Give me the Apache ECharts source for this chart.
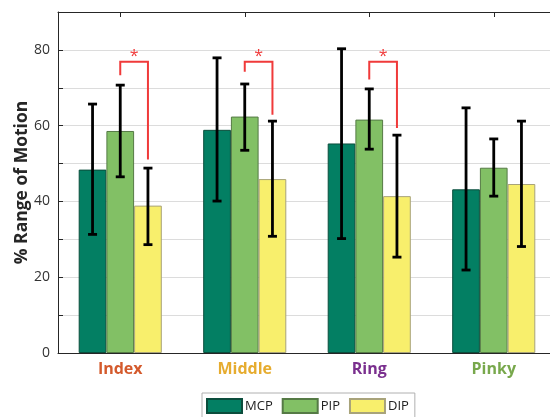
<!DOCTYPE html>
<html>
<head>
<meta charset="utf-8">
<script src="https://cdn.jsdelivr.net/npm/echarts@6/dist/echarts.min.js"></script>
<style>html,body{margin:0;padding:0;background:#fff;}#c{width:550px;height:417px;}</style>
</head>
<body>
<div id="c"></div>
<script>
var categories = ['Index', 'Middle', 'Ring', 'Pinky'];
var categoryColors = ['#d45a2c', '#e6ac2f', '#7a2f8e', '#78a84c'];
var seriesNames = ['MCP', 'PIP', 'DIP'];
var mcp = [48.4, 58.9, 55.3, 43.2];
var pip = [58.6, 62.4, 61.6, 48.9];
var dip = [38.9, 45.9, 41.4, 44.6];
var mcpLow = [31.3, 40.1, 30.2, 21.9];
var mcpHigh = [65.7, 77.9, 80.3, 64.7];
var pipLow = [46.5, 53.5, 53.8, 41.4];
var pipHigh = [70.7, 71.0, 69.7, 56.5];
var dipLow = [28.6, 30.8, 25.3, 28.1];
var dipHigh = [48.8, 61.2, 57.5, 61.2];
// significance brackets: [category, PIP end, top, DIP end]
var brackets = [[0, 73.3, 76.9, 51.1], [1, 74.2, 76.9, 62.9], [2, 72.2, 76.9, 59.4]];
var yTicks = [0, 20, 40, 60, 80];

var BAR_FRAC = 0.2225;
function errData(lo, hi) { return lo.map(function (v, i) { return [i, v, hi[i]]; }); }
function errSeries(lo, hi, k) {
  return {
    type: 'custom', z: 10, silent: true,
    data: errData(lo, hi),
    renderItem: function (params, api) {
      var band = api.size([1, 0])[0];
      var off = band * BAR_FRAC * (k - 1);
      var p1 = api.coord([api.value(0), api.value(1)]);
      var p2 = api.coord([api.value(0), api.value(2)]);
      var x = p1[0] + off;
      var cw = 4.5;
      var st = { stroke: '#000', lineWidth: 2.8 };
      return { type: 'group', children: [
        { type: 'line', shape: { x1: x, y1: p1[1], x2: x, y2: p2[1] }, style: st },
        { type: 'line', shape: { x1: x - cw, y1: p1[1], x2: x + cw, y2: p1[1] }, style: st },
        { type: 'line', shape: { x1: x - cw, y1: p2[1], x2: x + cw, y2: p2[1] }, style: st }
      ] };
    }
  };
}

var chart = echarts.init(document.getElementById('c'), null, { renderer: 'canvas' });
var tf = '"Open Sans", "Noto Sans", sans-serif';
var option = {
  animation: false,
  backgroundColor: '#fff',
  grid: { left: 58, top: 12, bottom: 64, right: -6, containLabel: false, outerBoundsMode: 'none' },
  legend: {
    data: seriesNames, left: 202, top: 393, orient: 'horizontal', icon: 'rect',
    itemWidth: 35, itemHeight: 14, itemGap: 9,
    padding: [5, 6, 8, 4],
    borderColor: '#b0b0b0', borderWidth: 1, borderRadius: 0,
    textStyle: { fontSize: 13, color: '#222', fontFamily: tf, padding: [0, 0, 0, -2] }
  },
  xAxis: [{
    type: 'category', data: categories, position: 'bottom',
    axisLine: { lineStyle: { color: '#262626', width: 1 } },
    axisTick: { show: true, inside: true, alignWithLabel: true, length: 5, lineStyle: { color: '#262626' } },
    axisLabel: {
      margin: 8, fontSize: 16, fontWeight: 'bold', fontFamily: tf,
      color: function (v, i) { return categoryColors[categories.indexOf(v)]; }
    },
    splitLine: { show: false }
  }, {
    type: 'category', data: categories, position: 'top',
    axisLine: { lineStyle: { color: '#262626', width: 1 } },
    axisTick: { show: true, inside: true, alignWithLabel: true, length: 5, lineStyle: { color: '#262626' } },
    axisLabel: { show: false }
  }],
  yAxis: {
    type: 'value', min: 0, max: 90, interval: 10,
    name: '% Range of Motion', nameLocation: 'middle', nameGap: 27, nameMoveOverlap: false,
    nameTextStyle: { fontSize: 17.5, fontWeight: 'bold', color: '#262626', fontFamily: tf },
    axisLine: { show: true, lineStyle: { color: '#262626', width: 1 } },
    axisTick: { show: true, inside: true, length: 5, lineStyle: { color: '#262626' } },
    axisLabel: {
      margin: 8, fontSize: 14, color: '#333', fontFamily: tf,
      formatter: function (v) { return yTicks.indexOf(v) >= 0 ? String(v) : ''; }
    },
    splitLine: { show: true, lineStyle: { color: '#dcdcdc', width: 1 } }
  },
  series: [
    { name: 'MCP', type: 'bar', data: mcp, barWidth: (BAR_FRAC * 100) + '%', barGap: '0%',
      itemStyle: { color: '#037f63', borderColor: '#0b4d3c', borderWidth: 1 } },
    { name: 'PIP', type: 'bar', data: pip, barWidth: (BAR_FRAC * 100) + '%', barGap: '0%',
      itemStyle: { color: '#82c065', borderColor: '#557a45', borderWidth: 1 } },
    { name: 'DIP', type: 'bar', data: dip, barWidth: (BAR_FRAC * 100) + '%', barGap: '0%',
      itemStyle: { color: '#f8ef6c', borderColor: '#a8a37a', borderWidth: 1 } },
    errSeries(mcpLow, mcpHigh, 0),
    errSeries(pipLow, pipHigh, 1),
    errSeries(dipLow, dipHigh, 2),
    {
      type: 'custom', z: 11, silent: true, data: brackets,
      renderItem: function (params, api) {
        var band = api.size([1, 0])[0];
        var w = band * BAR_FRAC;
        var c = api.value(0);
        var a = api.coord([c, api.value(1)]);
        var t = api.coord([c, api.value(2)]);
        var b = api.coord([c, api.value(3)]);
        var xl = a[0], xr = a[0] + w;
        var st = { stroke: '#f03a3a', lineWidth: 2, fill: null };
        return { type: 'group', children: [
          { type: 'polyline', shape: { points: [[xl, a[1]], [xl, t[1]], [xr, t[1]], [xr, b[1]]] }, style: st },
          { type: 'text', style: { text: '*', x: (xl + xr) / 2, y: t[1] - 5, textAlign: 'center', textVerticalAlign: 'middle',
            fill: '#f03a3a', font: '16px ' + tf } }
        ] };
      }
    }
  ]
};
chart.setOption(option);
</script>
</body>
</html>
